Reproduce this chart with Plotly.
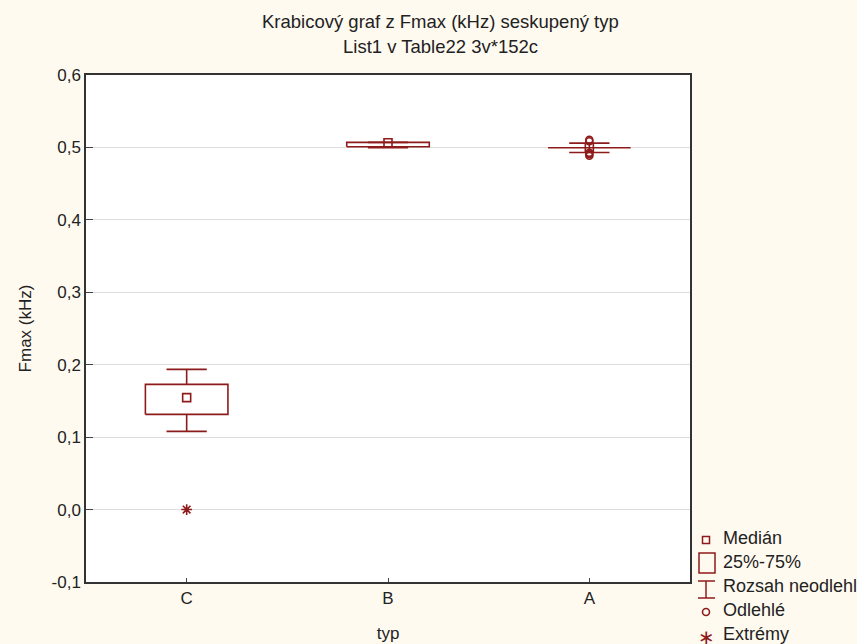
import plotly.graph_objects as go

# ---------------- data ----------------
categories = ["C", "B", "A"]
medians = [0.1545, 0.5065, 0.5000]
q1 = [0.1314, 0.5010, 0.4995]
q3 = [0.1729, 0.5070, 0.5005]
whisker_low = [0.1079, 0.4995, 0.4930]
whisker_high = [0.1936, 0.5070, 0.5060]
outlier_cat = ["A", "A", "A", "A", "A"]
outlier_vals = [0.5105, 0.5085, 0.4925, 0.4905, 0.4885]
extreme_cat = ["C"]
extreme_vals = [0.0]
y_ticks = [-0.1, 0.0, 0.1, 0.2, 0.3, 0.4, 0.5, 0.6]
y_tick_labels = ["-0,1", "0,0", "0,1", "0,2", "0,3", "0,4", "0,5", "0,6"]
legend_labels = ["Medián", "25%-75%", "Rozsah neodlehlých", "Odlehlé", "Extrémy"]

# ---------------- style ----------------
RED = "#8E1B1B"
BG = "#FFFAF0"
FONT = "Liberation Sans, Arial, sans-serif"
BOX_HW = 0.205
CAP_HW = 0.10
W, H = 857, 644
ML, MR, MT, MB = 86, 167, 75, 62
PW, PH = W - ML - MR, H - MT - MB

pos = {c: i for i, c in enumerate(categories)}

# boxes
bx, by = [], []
for i in range(len(categories)):
    bx += [i - BOX_HW, i + BOX_HW, i + BOX_HW, i - BOX_HW, i - BOX_HW, None]
    by += [q1[i], q1[i], q3[i], q3[i], q1[i], None]
# whiskers
wx, wy = [], []
for i in range(len(categories)):
    wx += [i, i, None, i - CAP_HW, i + CAP_HW, None,
           i, i, None, i - CAP_HW, i + CAP_HW, None]
    wy += [q3[i], whisker_high[i], None, whisker_high[i], whisker_high[i], None,
           q1[i], whisker_low[i], None, whisker_low[i], whisker_low[i], None]

fig = go.Figure()
fig.add_trace(go.Scatter(x=wx, y=wy, mode="lines", line=dict(color=RED, width=1.6),
                         showlegend=False, hoverinfo="skip"))
fig.add_trace(go.Scatter(x=bx, y=by, mode="lines", line=dict(color=RED, width=1.6),
                         showlegend=False, hoverinfo="skip"))
fig.add_trace(go.Scatter(x=list(range(len(categories))), y=medians, mode="markers",
                         marker=dict(symbol="square-open", size=8, color=RED,
                                     line=dict(width=1.6, color=RED)),
                         showlegend=False))
fig.add_trace(go.Scatter(x=[pos[c] for c in outlier_cat], y=outlier_vals, mode="markers",
                         marker=dict(symbol="circle-open", size=7, color=RED,
                                     line=dict(width=1.6, color=RED)),
                         showlegend=False))
fig.add_trace(go.Scatter(x=[pos[c] for c in extreme_cat], y=extreme_vals, mode="markers",
                         marker=dict(symbol="asterisk-open", size=9, color=RED,
                                     line=dict(width=1.6, color=RED)),
                         showlegend=False))

def px(x):
    return (x - ML) / PW

def py(y):
    return (MT + PH - y) / PH

annotations = [
    dict(text="Krabicový graf z Fmax (kHz) seskupený typ", x=px(441), y=py(22),
         xref="paper", yref="paper", showarrow=False, xanchor="center", yanchor="middle",
         font=dict(size=18.5, color="#222")),
    dict(text="List1 v Table22 3v*152c", x=px(441), y=py(47),
         xref="paper", yref="paper", showarrow=False, xanchor="center", yanchor="middle",
         font=dict(size=18.5, color="#222")),
]
legend_y = [538, 562, 586, 610, 634]
for lab, ly in zip(legend_labels, legend_y):
    annotations.append(dict(text=lab, x=px(721), y=py(ly), xref="paper", yref="paper",
                            showarrow=False, xanchor="left", yanchor="middle",
                            font=dict(size=18, color="#222")))

shapes = []
lx = 706
# median symbol
shapes.append(dict(type="rect", xref="paper", yref="paper", x0=px(lx - 3.5), x1=px(lx + 3.5),
                   y0=py(540 + 3.5), y1=py(540 - 3.5), line=dict(color=RED, width=1.5)))
# box symbol
shapes.append(dict(type="rect", xref="paper", yref="paper", x0=px(699), x1=px(715),
                   y0=py(573), y1=py(553), line=dict(color=RED, width=1.5)))
# whisker symbol
shapes.append(dict(type="line", xref="paper", yref="paper", x0=px(698), x1=px(715),
                   y0=py(581), y1=py(581), line=dict(color=RED, width=1.5)))
shapes.append(dict(type="line", xref="paper", yref="paper", x0=px(lx), x1=px(lx),
                   y0=py(581), y1=py(598), line=dict(color=RED, width=1.5)))
shapes.append(dict(type="line", xref="paper", yref="paper", x0=px(698), x1=px(715),
                   y0=py(598), y1=py(598), line=dict(color=RED, width=1.5)))
# outlier symbol
shapes.append(dict(type="circle", xref="paper", yref="paper", x0=px(lx - 3.5), x1=px(lx + 3.5),
                   y0=py(612 + 3.5), y1=py(612 - 3.5), line=dict(color=RED, width=1.6)))
# extreme symbol
annotations.append(dict(text="∗", x=px(lx), y=py(637), xref="paper", yref="paper",
                        showarrow=False, xanchor="center", yanchor="middle",
                        font=dict(size=20, color=RED, family="DejaVu Sans")))

fig.update_layout(
    width=W, height=H,
    margin=dict(l=ML, r=MR, t=MT, b=MB, autoexpand=False),
    paper_bgcolor=BG, plot_bgcolor="white",
    font=dict(family=FONT, size=16, color="#222"),
    showlegend=False,
    annotations=annotations,
    shapes=shapes,
)
fig.update_xaxes(
    range=[-0.5, len(categories) - 0.5],
    tickmode="array", tickvals=list(range(len(categories))), ticktext=categories,
    ticks="inside", ticklen=4, tickcolor="#444", tickwidth=1,
    showgrid=False, zeroline=False,
    showline=True, linecolor="#333", linewidth=1.5, mirror=True,
    title=dict(text="typ", font=dict(size=17), standoff=20),
    tickfont=dict(size=17),
)
fig.update_yaxes(
    range=[-0.1, 0.6],
    tickmode="array", tickvals=y_ticks, ticktext=y_tick_labels,
    ticks="inside", ticklen=7, tickcolor="#444", tickwidth=1,
    showgrid=True, gridcolor="#DDDDDD", gridwidth=1, zeroline=False,
    showline=True, linecolor="#333", linewidth=1.5, mirror=True,
    title=dict(text="Fmax (kHz)", font=dict(size=17), standoff=16),
    tickfont=dict(size=17),
)

fig.write_html("out.html", config={"displayModeBar": False},
               post_script="document.body.style.margin='0';document.body.style.background='#FFFAF0';")
